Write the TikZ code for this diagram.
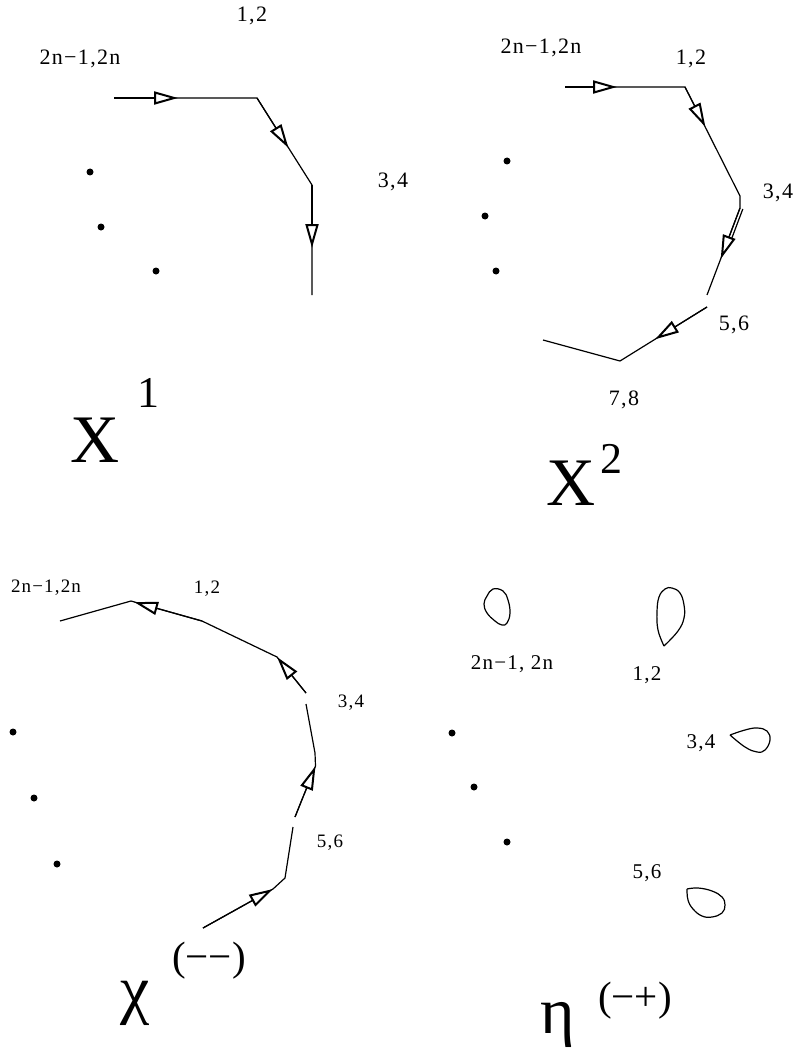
\documentclass[tikz,border=0pt]{standalone}
\usepackage{fontspec}
\setmainfont{Liberation Serif}
\newfontfamily\labfont{Liberation Serif}[LetterSpace=6]
\usetikzlibrary{arrows.meta}
\tikzset{
  ln/.style={line width=1.2pt, line join=miter},
  tri/.style={ln, -{Triangle[length=24pt,width=13pt,fill=white,line width=2pt]}},
  dotn/.style={circle, fill=black, inner sep=0pt, minimum size=7pt},
  labA/.style={anchor=base, inner sep=0pt, font=\labfont\fontsize{22}{22}\selectfont},
  labB/.style={anchor=base, inner sep=0pt, font=\labfont\fontsize{19}{19}\selectfont},
  labC/.style={anchor=base, inner sep=0pt, font=\labfont\fontsize{21}{21}\selectfont},
  bigl/.style={anchor=base west, inner sep=0pt, font=\fontsize{68}{68}\selectfont},
  supl/.style={anchor=base west, inner sep=0pt, font=\fontsize{44}{44}\selectfont},
  greekl/.style={anchor=base west, inner sep=0pt, font=\fontsize{66}{66}\selectfont},
  parl/.style={anchor=base west, inner sep=0pt, font=\fontsize{41}{41}\selectfont},
  loopc/.style={line width=1.2pt},
}
\begin{document}
\begin{tikzpicture}[x=1pt,y=-1pt]
\useasboundingbox (0,0) rectangle (794,1051);

% ---------- Panel 1 : X^1 ----------
\node[labA] (p1l12) at (252,22) {1,2};
\node[labA] (p1ln) at (80,65) {2n−1,2n};
\node[labA] (p1l34) at (393,187) {3,4};
\coordinate (a0) at (114,98);
\coordinate (a1) at (257,98);
\coordinate (a2) at (312,185);
\coordinate (a3) at (312,295);
\coordinate (at1) at (178,98);
\coordinate (at2) at (288.5,148);
\coordinate (at3) at (312,248);
\draw[ln] (a0) -- (a1) -- (a2) -- (a3);
\draw[tri] (a0) -- (at1);
\draw[tri] (a1) -- (at2);
\draw[tri] (a2) -- (at3);
\node[dotn] (d11) at (90,172) {};
\node[dotn] (d12) at (101,227) {};
\node[dotn] (d13) at (156,271) {};
\node[bigl] (X1) at (70,462) {X};
\node[supl] (X1s) at (137,407) {1};

% ---------- Panel 2 : X^2 ----------
\node[labA] (p2ln) at (541,54) {2n−1,2n};
\node[labA] (p2l12) at (691,65) {1,2};
\node[labA] (p2l34) at (778,198) {3,4};
\node[labA] (p2l56) at (734,330) {5,6};
\node[labA] (p2l78) at (624,405) {7,8};
\coordinate (b0) at (565,87);
\coordinate (b1) at (685,87);
\coordinate (b2) at (740,196);
\coordinate (b3) at (740,208);
\coordinate (b4) at (707,295);
\coordinate (b5) at (707,307);
\coordinate (b6) at (620,361);
\coordinate (b7) at (543,340);
\coordinate (bt1) at (617,87);
\coordinate (bt2) at (705.4,127);
\coordinate (bt3) at (720.7,259);
\coordinate (bt4) at (655,339.3);
\coordinate (bd0) at (742.8,209);
\coordinate (bd1) at (731.5,239);
\draw[ln] (b0) -- (b1) -- (b2) -- (b3) -- (b4);
\draw[ln] (bd0) -- (bd1);
\draw[ln] (b5) -- (b6) -- (b7);
\draw[tri] (b0) -- (bt1);
\draw[tri] (b1) -- (bt2);
\draw[tri] (b3) -- (bt3);
\draw[tri] (b5) -- (bt4);
\node[dotn] (d21) at (507,161) {};
\node[dotn] (d22) at (485,216) {};
\node[dotn] (d23) at (496,271) {};
\node[bigl] (X2) at (546,505) {X};
\node[supl] (X2s) at (600,473) {2};

% ---------- Panel 3 : chi ----------
\node[labB] (p3ln) at (46,592) {2n−1,2n};
\node[labB] (p3l12) at (207,593) {1,2};
\node[labB] (p3l34) at (351,707) {3,4};
\node[labB] (p3l56) at (330,847) {5,6};
\coordinate (c0) at (60,621);
\coordinate (c1) at (131,601);
\coordinate (c2) at (202,621);
\coordinate (c3) at (277,657);
\coordinate (c4) at (306,693);
\coordinate (c5) at (306,704);
\coordinate (c6) at (315,753);
\coordinate (c7) at (315.5,766);
\coordinate (c8) at (295,817);
\coordinate (c9) at (293,827);
\coordinate (c10) at (285,878);
\coordinate (c11) at (273,889);
\coordinate (c12) at (203,928);
\coordinate (ct1) at (134,602);
\draw[ln] (c0) -- (c1) -- (c2) -- (c3) -- (c4);
\draw[ln] (c5) -- (c6) -- (c7) -- (c8);
\draw[ln] (c9) -- (c10) -- (c11) -- (c12);
\draw[tri] (c2) -- (ct1);
\draw[tri] (c4) -- (c3);
\draw[tri] (c8) -- (c7);
\draw[tri] (c12) -- (c11);
\node[dotn] (d31) at (13,732) {};
\node[dotn] (d32) at (34,798) {};
\node[dotn] (d33) at (57,864) {};
\node[greekl] (chi) at (120,1011) {χ};
\node[parl] (chis) at (172,970) {(−−)};

% ---------- Panel 4 : eta ----------
\node[labC] (p4ln) at (512,669) {2n−1, 2n};
\node[labC] (p4l12) at (647,680) {1,2};
\node[labC] (p4l34) at (701,748) {3,4};
\node[labC] (p4l56) at (647,878) {5,6};
\draw[loopc] plot[smooth cycle, tension=0.7] coordinates {(493,589) (487,596) (484,604) (487,613) (495,621) (502,625) (507,623) (510,613) (508,600) (503,591)};
\draw[loopc] plot[smooth, tension=0.7] coordinates {(664,646) (658,630) (657,612) (659,597) (665,589) (672,588) (680,593) (684,605) (684,618) (678,631) (664,646)};
\draw[loopc] plot[smooth, tension=0.7] coordinates {(730,735) (745,730) (757,728) (767,731) (770,740) (765,750) (757,752) (745,747) (730,735)};
\draw[loopc] plot[smooth, tension=0.7] coordinates {(687,889) (698,888) (712,891) (722,897) (725,905) (722,913) (712,917) (702,916) (693,909) (688,900) (687,889)};
\node[dotn] (d41) at (452,733) {};
\node[dotn] (d42) at (474,787) {};
\node[dotn] (d43) at (507,842) {};
\node[greekl] (eta) at (540,1033) {η};
\node[parl] (etas) at (598,1010) {(−+)};
\end{tikzpicture}
\end{document}
